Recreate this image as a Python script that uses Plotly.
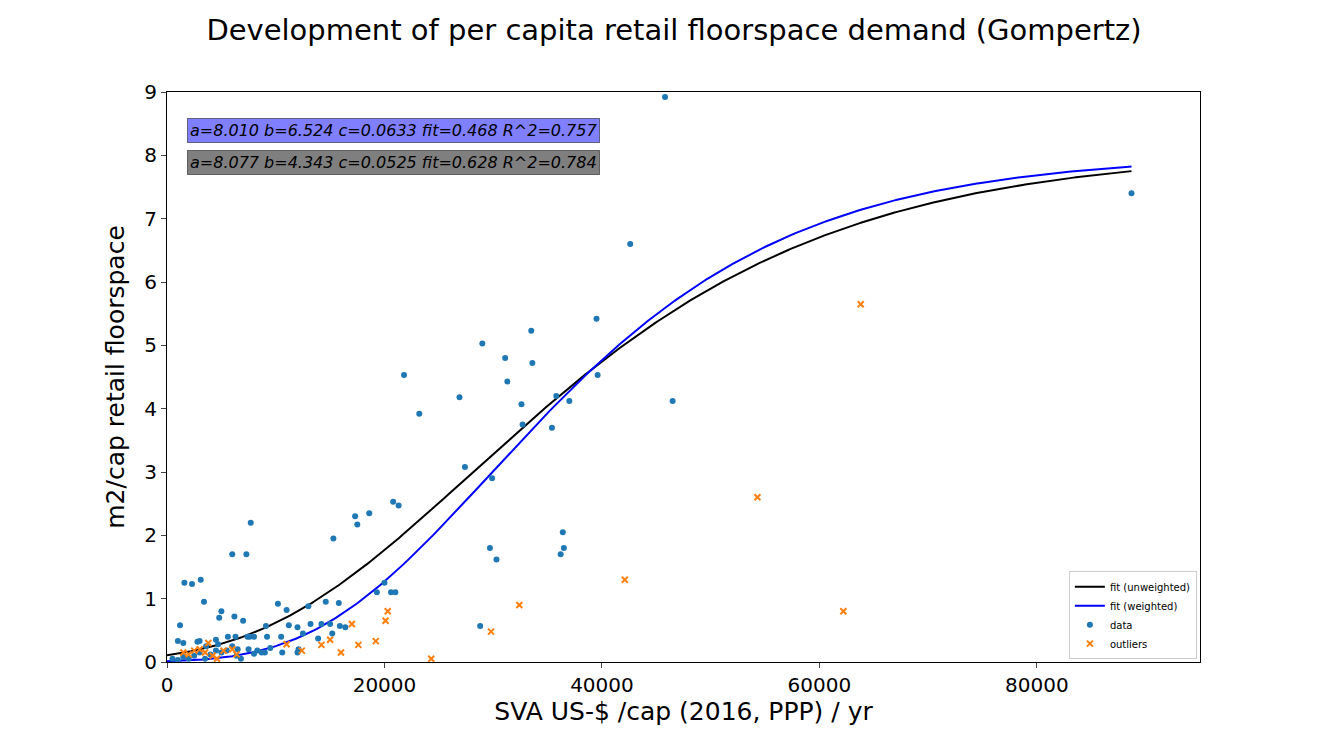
import numpy as np
import plotly.graph_objects as go

# data points (SVA per cap, m2/cap)
data_x = [1000, 1500, 1200, 1600, 2300, 3100, 3400, 2800, 3000, 3600, 4500, 4700, 4800, 5000, 5600,
          6000, 6200, 6300, 6500, 7000, 7300, 7400, 7600, 7700, 8000, 8300, 8700, 9100, 9200, 9500,
          10200, 10500, 11000, 11200, 12000, 12100, 12500, 13000, 13200, 13900, 14200, 14600, 15000,
          15200, 15300, 15800, 15900, 16400, 17300, 17500, 18600, 19300, 20000, 20600, 20800, 21000,
          21300, 21800, 23200, 26900, 27400, 28800, 29000, 29700, 29900, 30300, 31100, 31300, 32600,
          32700, 33500, 33600, 35400, 35800, 36200, 36400, 36500, 37000, 39500, 39600, 42600, 45800,
          46500, 88700, 500, 1000, 1500, 2000, 2500, 3000, 3500, 4000, 4500, 5000, 5500, 6000, 6400,
          6800, 7500, 8000, 9000, 10600, 12000]
data_y = [0.33, 0.3, 0.58, 1.25, 1.23, 1.3, 0.95, 0.32, 0.33, 0.25, 0.35, 0.28, 0.7, 0.8, 0.4,
          1.7, 0.72, 0.4, 0.2, 0.65, 1.7, 0.4, 0.4, 2.2, 0.4, 0.18, 0.15, 0.57, 0.4, 0.22,
          0.92, 0.4, 0.82, 0.58, 0.55, 0.2, 0.45, 0.88, 0.6, 0.37, 0.6, 0.95, 0.6,
          0.45, 1.95, 0.93, 0.57, 0.55, 2.3, 2.17, 2.35, 1.1, 1.25, 1.1, 2.53, 1.1,
          2.47, 4.53, 3.92, 4.18, 3.08, 0.57, 5.03, 1.8, 2.9, 1.62, 4.8, 4.43, 4.07,
          3.75, 5.23, 4.72, 3.7, 4.2, 1.7, 2.05, 1.8, 4.12, 5.42, 4.53, 6.6, 8.92,
          4.12, 7.4, 0.05, 0.03, 0.08, 0.05, 0.1, 0.15, 0.05, 0.12, 0.18, 0.15, 0.18, 0.25, 0.1,
          0.05, 0.2, 0.13, 0.15, 0.15, 0.15]

outlier_x = [1500, 2000, 2500, 3000, 3500, 3800, 4200, 4600, 5200, 6000, 6400, 11000, 12400, 14200,
             15000, 16000, 17000, 17600, 19200, 20100, 20300, 24300, 29800, 32400, 42100, 54300,
             62200, 63800]
outlier_y = [0.15, 0.12, 0.18, 0.2, 0.15, 0.3, 0.1, 0.05, 0.18, 0.2, 0.12, 0.28, 0.18, 0.27,
             0.35, 0.15, 0.6, 0.27, 0.33, 0.65, 0.8, 0.05, 0.48, 0.9, 1.3, 2.6,
             0.8, 5.65]

# Gompertz fit parameters (from the annotations), x in thousands
fit_unweighted = dict(a=8.077, b=4.343, c=0.0525)
fit_weighted = dict(a=8.010, b=6.524, c=0.0633)

xs = np.linspace(0, 88700, 400)

def gompertz(p, x):
    return p["a"] * np.exp(-p["b"] * np.exp(-p["c"] * x / 1000))

fig = go.Figure()
fig.add_trace(go.Scatter(x=xs, y=gompertz(fit_unweighted, xs), mode="lines",
                         line=dict(color="black", width=2), name="fit (unweighted)"))
fig.add_trace(go.Scatter(x=xs, y=gompertz(fit_weighted, xs), mode="lines",
                         line=dict(color="blue", width=2), name="fit (weighted)"))
fig.add_trace(go.Scatter(x=data_x, y=data_y, mode="markers",
                         marker=dict(color="#1f77b4", size=6), name="data"))
fig.add_trace(go.Scatter(x=outlier_x, y=outlier_y, mode="markers",
                         marker=dict(color="#ff7f0e", size=6, symbol="x-thin",
                                     line=dict(color="#ff7f0e", width=2)), name="outliers"))

ann_font = dict(family="DejaVu Sans", size=16, color="black")
fig.add_annotation(x=0.019, y=0.955, xref="paper", yref="paper", xanchor="left",
                   text="<i>a=8.010 b=6.524 c=0.0633 fit=0.468 R^2=0.757</i>",
                   showarrow=False, bgcolor="rgba(0,0,255,0.5)", bordercolor="rgba(0,0,0,0.5)",
                   borderwidth=1, borderpad=2, font=ann_font)
fig.add_annotation(x=0.019, y=0.899, xref="paper", yref="paper", xanchor="left",
                   text="<i>a=8.077 b=4.343 c=0.0525 fit=0.628 R^2=0.784</i>",
                   showarrow=False, bgcolor="rgba(0,0,0,0.5)", bordercolor="rgba(0,0,0,0.5)",
                   borderwidth=1, borderpad=2, font=ann_font)

axis_common = dict(showline=True, mirror=True, linecolor="black", linewidth=1, ticks="outside",
                   showgrid=False, zeroline=False, tickfont=dict(size=20, color="black"))
fig.update_layout(
    width=1332, height=756, plot_bgcolor="white", paper_bgcolor="white",
    font=dict(family="DejaVu Sans", color="black"),
    title=dict(text="Development of per capita retail floorspace demand (Gompertz)",
               x=0.5, y=0.985, yanchor="top", xanchor="center", font=dict(size=29)),
    margin=dict(l=159, r=140, t=84, b=102, autoexpand=False),
    xaxis=dict(range=[0, 95000], tickvals=[0, 20000, 40000, 60000, 80000], tickformat="d",
               title=dict(text="SVA US-$ /cap (2016, PPP) / yr", font=dict(size=25), standoff=6),
               **axis_common),
    yaxis=dict(range=[0, 9], dtick=1,
               title=dict(text="m2/cap retail floorspace", font=dict(size=25), standoff=12),
               **axis_common),
    legend=dict(x=0.997, y=0.005, xanchor="right", yanchor="bottom", bgcolor="white",
                bordercolor="#cccccc", borderwidth=1, font=dict(size=10), tracegroupgap=0),
)

fig.write_html("out.html")
